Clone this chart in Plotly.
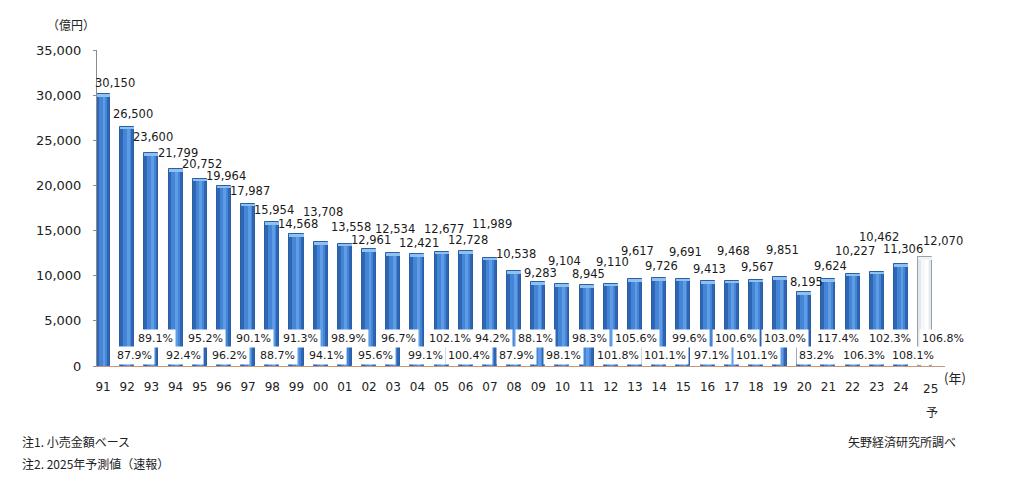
import plotly.graph_objects as go

# ---------------- data ----------------
years = ["91", "92", "93", "94", "95", "96", "97", "98", "99", "00",
         "01", "02", "03", "04", "05", "06", "07", "08", "09", "10",
         "11", "12", "13", "14", "15", "16", "17", "18", "19", "20",
         "21", "22", "23", "24", "25"]
values = [30150, 26500, 23600, 21799, 20752, 19964, 17987, 15954, 14568, 13708,
          13558, 12961, 12534, 12421, 12677, 12728, 11989, 10538, 9283, 9104,
          8945, 9110, 9617, 9726, 9691, 9413, 9468, 9567, 9851, 8195,
          9624, 10227, 10462, 11306, 12070]
# year-on-year ratio (%), from 92 onward
ratios = [None, 87.9, 89.1, 92.4, 95.2, 96.2, 90.1, 88.7, 91.3, 94.1,
          98.9, 95.6, 96.7, 99.1, 102.1, 100.4, 94.2, 87.9, 88.1, 98.1,
          98.3, 101.8, 105.6, 101.1, 99.6, 97.1, 100.6, 101.1, 103.0, 83.2,
          117.4, 106.3, 102.3, 108.1, 106.8]
y_ticks = [0, 5000, 10000, 15000, 20000, 25000, 30000, 35000]

# ---------------- styling (label placement, px) ----------------
val_yshift = [11, 13, 16, 16, 15, 10, 13, 12, 10,
              30, 17, 9, 24, 11, 23, 11, 34, 17, 9,
              23, 11, 22, 28, 12, 27, 12, 30, 13, 27,
              10, 13, 23, 35, 15, 16]
val_xshift = [12, 6] + [2] * 8 + [6] + [2] * 23 + [18]
pct_xshift = [0, 7, 4, 8, 6, 6, 5, 5, 4, 6,
              4, 6, 5, 8, 8, 3, 3, 2, -3, 1,
              3, 7, 1, 6, 6, 4, 4, 1, 5, 12,
              10, 11, 13, 12, 18]

n = len(values)
idx = list(range(n))
forecast = n - 1

NUM_FONT = "DejaVu Sans"
JP_FONT = "Noto Sans CJK JP"

base_colors = ["#2F66B3"] * n
base_colors[forecast] = "#E4E7EB"
base_lines = ["#2A5EA6"] * n
base_lines[forecast] = "#98A1AB"
mid_colors = ["#4585D6"] * n
mid_colors[forecast] = "#F6F7F9"
hi_colors = ["#5E9DE6"] * n
hi_colors[forecast] = "#FFFFFF"
cap_colors = ["#8EC1F0"] * n
cap_colors[forecast] = "#F0F2F4"

fig = go.Figure()
fig.add_trace(go.Bar(x=idx, y=values, width=0.58, offset=-0.29,
                     marker=dict(color=base_colors, line=dict(color=base_lines, width=1)),
                     hoverinfo="skip"))
fig.add_trace(go.Bar(x=idx, y=values, width=0.34, offset=-0.17,
                     marker=dict(color=mid_colors, line=dict(width=0)),
                     hoverinfo="skip"))
fig.add_trace(go.Bar(x=idx, y=values, width=0.12, offset=-0.02,
                     marker=dict(color=hi_colors, line=dict(width=0)),
                     hoverinfo="skip"))
cap_h = 300
fig.add_trace(go.Bar(x=idx, y=[cap_h] * n, base=[v - cap_h for v in values],
                     width=0.58, offset=-0.29,
                     marker=dict(color=cap_colors, line=dict(width=0)),
                     hoverinfo="skip"))

# page has an 8px body margin: figure is sized/positioned to compensate
OFF = 8
W, H = 1019 - OFF, 482 - OFF
ML, MR, MT, MB = 97 - OFF, 74, 50 - OFF, 116
pw, ph = W - ML - MR, H - MT - MB


def px(xp, yp):
    """page pixel -> paper coords"""
    return (xp - OFF - ML) / pw, (H - MB - (yp - OFF)) / ph


annotations = []
# value labels
for i, v in enumerate(values):
    annotations.append(dict(
        x=i, y=v, xref="x", yref="y", text=f"{v:,}", showarrow=False,
        xanchor="center", yanchor="middle",
        xshift=val_xshift[i], yshift=val_yshift[i],
        font=dict(family=NUM_FONT, size=11.5, color="#1A1A1A")))
# ratio labels
for i, r in enumerate(ratios):
    if r is None:
        continue
    upper = (i % 2 == 0)
    annotations.append(dict(
        x=i, y=0, xref="x", yref="y", text=f"{r:.1f}%", showarrow=False,
        xanchor="center", yanchor="middle",
        xshift=pct_xshift[i], yshift=28 if upper else 11,
        bgcolor="white", borderpad=2,
        font=dict(family=NUM_FONT, size=11, color="#1A1A1A")))
# forecast year tick
annotations.append(dict(x=forecast, y=0, xref="x", yref="y", text="25",
                        showarrow=False, yanchor="middle", yshift=-23, xshift=5,
                        font=dict(family=NUM_FONT, size=12, color="#222222")))
annotations.append(dict(x=forecast, y=0, xref="x", yref="y", text="予",
                        showarrow=False, yanchor="middle", yshift=-45, xshift=7,
                        font=dict(family=JP_FONT, size=12, color="#222222")))


def note(text, xp, yp, anchor="left", size=12):
    x, y = px(xp, yp)
    annotations.append(dict(x=x, y=y, xref="paper", yref="paper", text=text,
                            showarrow=False, xanchor=anchor, yanchor="middle",
                            font=dict(family=JP_FONT, size=size, color="#222222")))


note("(年)", 955, 377, "center", 13)
note("（億円）", 71, 24, "center", 12)
note("注1. 小売金額ベース", 20, 441)
note("注2. 2025年予測値（速報）", 20, 464)
note("矢野経済研究所調べ", 958, 441, "right")

tick_text = years[:-1] + [""]

fig.update_layout(
    width=W, height=H,
    margin=dict(l=ML, r=MR, t=MT, b=MB),
    paper_bgcolor="white", plot_bgcolor="white",
    barmode="overlay", bargap=0, showlegend=False,
    xaxis=dict(range=[-0.25, 34.82], tickvals=idx, ticktext=tick_text,
               showgrid=False, zeroline=False, showline=True,
               linecolor="#C9957F", linewidth=1, ticks="",
               ticklabelstandoff=10,
               tickfont=dict(family=NUM_FONT, size=12, color="#222222")),
    yaxis=dict(range=[0, 35000], tickvals=y_ticks, tickformat=",",
               showgrid=False, zeroline=False, showline=True,
               linecolor="#8C8C8C", linewidth=1, ticks="outside",
               ticklen=3, tickcolor="#8C8C8C", ticklabelstandoff=9,
               tickfont=dict(family=NUM_FONT, size=13, color="#222222")),
    annotations=annotations,
)

fig.write_html("out.html")
